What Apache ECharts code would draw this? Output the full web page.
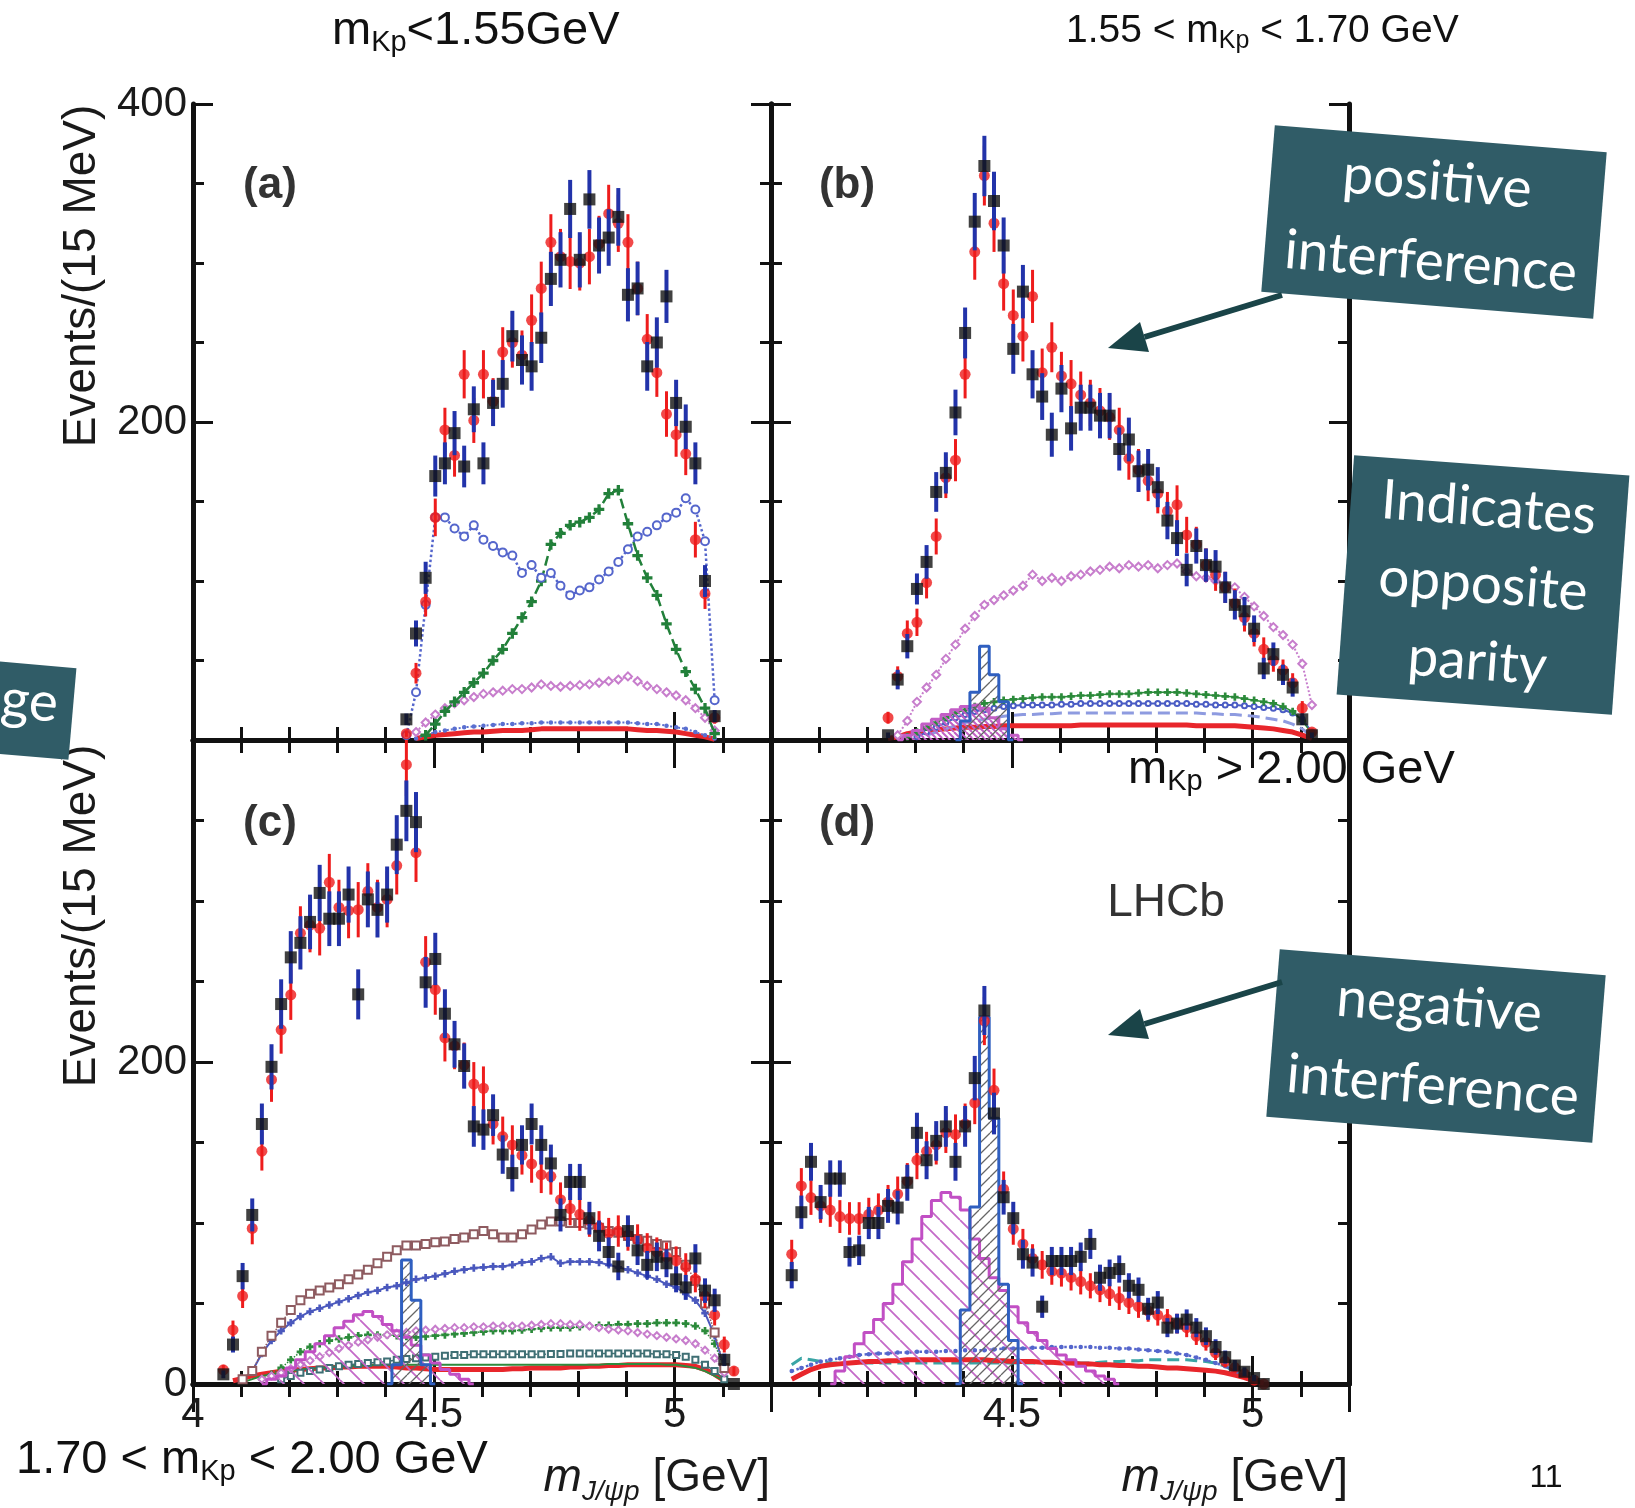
<!DOCTYPE html>
<html><head><meta charset="utf-8">
<script src="https://cdn.jsdelivr.net/npm/echarts@6/dist/echarts.min.js"></script>
<style>html,body{margin:0;padding:0;background:#fff;}#c{width:1635px;height:1508px;}</style>
</head><body><div id="c"></div>
<script>
// ---------------- tick labels ----------------
const xTickLabelsLeft = ['4', '4.5', '5'];
const xTickLabelsRight = ['4.5', '5'];
const yTickLabelsTop = ['200', '400'];
const yTickLabelsBottom = ['0', '200'];

// ---------------- panel (a): mKp < 1.55 GeV ----------------
const binsA = [4.443,4.463,4.483,4.503,4.523,4.543,4.563,4.583,4.603,4.623,4.643,4.663,4.683,4.703,4.723,4.743,4.763,4.783,4.803,4.823,4.843,4.863,4.883,4.903,4.923,4.943,4.963,4.983,5.003,5.023,5.043,5.063,5.083];
const dataA = [13,67,102,166,174,193,172,208,174,212,224,254,239,235,253,290,302,334,302,340,311,316,329,280,284,235,250,279,212,197,174,100,15];
const fitA = [4,42,87,140,195,179,230,201,230,213,244,250,242,264,284,313,304,301,300,304,312,331,325,313,284,252,231,205,192,180,126,92,14];
const blueCircA = [3,30,85,140,140,133,128,135,126,122,118,116,105,110,102,105,97,91,94,96,101,106,112,120,128,131,135,140,143,152,145,125,25];
const greenA = [null,null,3,10,18,24,30,36,42,50,57,67,77,87,100,123,130,135,137,140,145,155,157,136,116,102,91,73,57,43,32,20,4];
const magentaA = [null,5,11,16,20,23,25,27,29,30,31,32,32,33,35,34,33.5,34,34.5,35,36,37,38,40,37,34,32,30,28,25,20,14,6];
const redLowA = [null,1,2,3,3.5,4,4.5,5,5,5.5,6,6,6,6.5,7,7,7,7,7,7,7,7,7,7,6.5,6,6,5.5,5,4,3,2,0.5];
const blueLowA = [null,1,3,5,6,7,8,8.5,9,9.5,10,10,10.5,10.5,11,11,11,11,11,11,11,11,11,11,10.5,10,10,9,8,7,5,3,1];

// ---------------- panel (b): 1.55 < mKp < 1.70 GeV ----------------
const binsB = [4.243,4.263,4.283,4.303,4.323,4.343,4.363,4.383,4.403,4.423,4.443,4.463,4.483,4.503,4.523,4.543,4.563,4.583,4.603,4.623,4.643,4.663,4.683,4.703,4.723,4.743,4.763,4.783,4.803,4.823,4.843,4.863,4.883,4.903,4.923,4.943,4.963,4.983,5.003,5.023,5.043,5.063,5.083,5.103,5.123];
const dataB = [3,38,59,95,112,156,168,206,256,326,361,339,311,246,282,230,216,192,221,196,209,209,204,204,183,189,169,170,159,138,127,107,122,110,109,96,85,81,70,45,54,41,33,13,3];
const fitB = [14,40,67,74,99,128,165,176,230,307,355,325,287,267,254,279,231,247,229,224,217,212,207,203,195,177,170,163,155,144,148,129,123,110,104,96,86,77,67,57,50,44,36,20,5];
const magentaB = [null,3,12,24,33,41,51,60,70,78,85,88,91,94,97,104,100,102,100,103,104,106,107,109,108,110,109,110,108,110,111,106,103,102,100,98,96,90,84,78,71,66,60,48,22];
const greenB = [null,null,2,5,8,11,14,17,19,21,23,24,25,25.5,26,26.5,27,27,27,27.5,28,28,28.5,29,29,29,29.5,30,30,30,30,29.5,29,28.5,28,27.5,27,26,25,24,23,21,18,12,4];
const blueCircB = [null,null,null,2,5,8,11,14,16,18,19,20,21,21.5,22,22,22,22,22.5,22.5,23,23,23,23,23,23,23,23,23,23,23,23,22.5,22.5,22,22,22,21.5,21,20.5,20,19,17,13,5];
const lightDashB = [null,null,null,null,3,5,7,9,11,12,13,14,15,15.5,16,16,16.5,16.5,17,17,17,17,17,17,17,17,17,17,17,17,17,17,17,16.5,16.5,16,16,15.5,15,14,13,12,10,7,2];
const redLowB = [1,2,4,5,6,6.5,7,7.5,8,8,8.5,8.5,9,9,9,9,9,9,9,9,9.5,9.5,9.5,9.5,9.5,9.5,9.5,9.5,9.5,9.5,9.5,9.5,9,9,9,9,9,8.5,8,7.5,7,6,5,3,1];
const magHistBx = [4.263,4.283,4.303,4.323,4.343,4.363,4.383,4.403,4.423,4.443,4.463,4.483,4.503,4.523];
const magHistBy = [0,3,6,10,13,16,19,21,22,20,14,7,3,0];
const pcHistBx = [4.383,4.403,4.423,4.443,4.463,4.483,4.503];
const pcHistBy = [0,12,30,59,41,24,0];

// ---------------- panel (c): 1.70 < mKp < 2.00 GeV ----------------
const binsC = [4.063,4.083,4.103,4.123,4.143,4.163,4.183,4.203,4.223,4.243,4.263,4.283,4.303,4.323,4.343,4.363,4.383,4.403,4.423,4.443,4.463,4.483,4.503,4.523,4.543,4.563,4.583,4.603,4.623,4.643,4.663,4.683,4.703,4.723,4.743,4.763,4.783,4.803,4.823,4.843,4.863,4.883,4.903,4.923,4.943,4.963,4.983,5.003,5.023,5.043,5.063,5.083,5.103,5.123];
const dataC = [6,24.5,67,105,161.5,197,236,265,274,287,305,289,289,304,242,301,294.5,304,335,356,349,249.5,264,230,211,197.5,160,158,167,142.5,131,148.5,161.5,148.5,137,105,125.5,125.5,103,92,82,73,95,83,74,79,75,65,60,78,58,52,15,0];
const fitC = [8.8,33.6,54.6,96.6,144.6,189,220,241.7,280,285,283,311.6,296,294,294.6,306,296,301,322,384.7,330,262,245,215,210,198,186.3,183.7,161.5,153.7,148.5,142,136.7,130,129,114.5,109,105.4,101.5,97.5,93.5,95,92.4,89.7,84.5,82,79,76.7,72.7,65,54.6,42.9,24.5,8];
const brownC = [null,null,3,8,20,30,38,46,52,56,58,60,62,65,68,71,75,79,83,86,86,87,88,88.5,90,91,93,95,93,91,91,93,96,99,101,101,100,100,99,97,95,94,92,90,89,87,86,82,74,64,50,32,10,null];
const blueXC = [null,null,null,8,19,27,33,38,42,45,47,49,51,53,55,57,58,60,61,63,65,66,67,68.5,70,71,72,72.5,73,73,74,75.5,76,78,79,75,76,76,76,75.5,74,72.5,71,69,67,65,62,60,56,52,44,30,10,null];
const magDiaC = [null,null,null,null,3,5,7,9.5,12,14.5,17,19.5,22,24,26,27.5,29,30.5,31.5,32,33,33.5,34,34.5,35,35,35.5,35.5,36,36,36,36,36.5,37,37.5,37.5,37,37,36,35,34,33.5,33,32,31,30,29,28,27,25,21,16,7,null];
const greenXC = [null,null,null,null,3,6,10,15,20,23,25,27,28,29,30,30.5,30.5,30.5,30,29.5,29,29.5,30,30.5,31,31.5,32,32.5,33,33,33,33.5,34,34.5,35,35,35,35.5,36,36.5,36.5,37,37,37.5,37.5,38,38,38,37.5,36,33,25,10,null];
const tealSqC = [null,null,null,null,null,null,3,5,7,8,9,10,11,12,12.5,13,13.5,14,15,15.5,16,16.5,17,17.5,18,18,18.5,18.5,18.5,18.5,18.5,18.5,18.5,18.5,18.6,18.6,19,19,19,19,19,19,19,19,19,18.5,18.5,18,17,15,12,8,3,null];
const greenSolidC = [null,null,1,3,5,6,7,8,9,9.5,10,10.5,11,11,11.5,11.5,12,12,12,12,12,12,12,12,12,12,12,12,12,12,12,12,12,12,12,12,12,12,12,12,12.5,12.5,12.5,12.5,12.5,12.5,12,12,11,10,8,5,2,null];
const redLowC = [null,2,3.5,5,6,7,8,8.5,9,9.5,10,10,10.5,10.5,11,11,11,11,10.5,10,10,9.5,9,9,9,9,9,9,9,9,9.5,9.5,10,10,10,10,10.5,10.5,11,11,11.5,11.5,12,12,12,12,12,12,11.5,11,9,6,2,null];
const magHistCx = [4.143,4.163,4.183,4.203,4.223,4.243,4.263,4.283,4.303,4.323,4.343,4.363,4.383,4.403,4.423,4.443,4.463,4.483,4.503,4.523,4.543,4.563,4.583];
const magHistCy = [0,3,5,10,15,20,25,30,35,39,43,45,42,37,33,29,24,18,13,9,6,3,0];
const pcHistCx = [4.403,4.423,4.443,4.463,4.483,4.503];
const pcHistCy = [0,12,77,52,12,0];

// ---------------- panel (d): mKp > 2.00 GeV ----------------
const binsD = [4.043,4.063,4.083,4.103,4.123,4.143,4.163,4.183,4.203,4.223,4.243,4.263,4.283,4.303,4.323,4.343,4.363,4.383,4.403,4.423,4.443,4.463,4.483,4.503,4.523,4.543,4.563,4.583,4.603,4.623,4.643,4.663,4.683,4.703,4.723,4.743,4.763,4.783,4.803,4.823,4.843,4.863,4.883,4.903,4.923,4.943,4.963,4.983,5.003,5.023];
const dataD = [67.6,106.7,138,113,127.6,127.6,82,83,100,100,110.6,109.6,125,156,139,151,160,138,160,190,232,168,116,103,80.6,75.4,48,76.4,76.4,76.4,79,87,66,69,71.4,61,58.5,46.7,50.6,35,37.5,40,35,29.7,23,16.7,11.5,7.6,3.7,0];
const fitD = [80.6,123,115.8,110.6,108,104,102.8,102.8,105.4,108,113,118,126,139,144.6,148.5,156,155,161.5,174.6,225.5,182.4,121,96.3,87,78,74,70,68.8,66.2,63.6,61,58.5,56,53.3,50.6,48,45.4,42.8,40.2,37.5,35,29.7,25.8,19.3,14.1,10.2,6.3,2.4,0];
const blueDotD = [8,10,12,14,15,16,17,18,18.5,19,19,19.5,19.5,20,20,20,20.5,20.5,21,21,21,21.5,22,22,22,22.5,22.5,23,23,23,23,23,22.5,22.5,22,22,21.5,21,20.5,20,19,18,16.5,15,13,11,8,5,2,null];
const tealD = [12,16,15,14,13,13,13,13,13,13,13,13,13,13,13,13,13,13,13,13,13,13,13,13,13,13,13,13,13,13,13,13,13.5,14,14,14.5,14.5,15,15,15,15,15,14.5,14,13,11,8,5,2,null];
const redLowD = [3,6,9,11,12,12.5,13,13.5,14,14,14.5,14.5,15,15,15,15,15,15,15,15,15,14.5,14.5,14,14,14,13.5,13.5,13,13,12.5,12.5,12,12,11.5,11.5,11,11,10.5,10,10,9.5,9,8.5,8,7,5.5,4,2,0.5];
const magHistDx = [4.123,4.143,4.163,4.183,4.203,4.223,4.243,4.263,4.283,4.303,4.323,4.343,4.363,4.383,4.403,4.423,4.443,4.463,4.483,4.503,4.523,4.543,4.563,4.583,4.603,4.623,4.643,4.663,4.683,4.703,4.723];
const magHistDy = [0,8,17,25,32,40,50,62,76,90,104,114,119,116,108,90,78,66,58,48,38,32,27,22,18,15,11,8,5,3,0];
const pcHistDx = [4.383,4.403,4.423,4.443,4.463,4.483,4.503,4.523];
const pcHistDy = [0,46,110,228,165,62,27,0];

// =====================================================
const FONT = '"Liberation Sans", Arial, Helvetica, sans-serif';
const SLIDE_FONT = 'Lato, "Open Sans", sans-serif';
const PLUS = 'path://M4,0h2v4h4v2h-4v4h-2v-4h-4v-2h4z';

function pairs(xs, ys) {
  const out = [];
  xs.forEach((x, i) => { if (ys[i] != null) out.push([x, ys[i]]); });
  return out;
}
function hatch(color, p, dir, lw) {
  const c = document.createElement('canvas');
  c.width = p; c.height = p;
  const ctx = c.getContext('2d');
  ctx.strokeStyle = color; ctx.lineWidth = lw;
  ctx.beginPath();
  for (let k = -1; k <= 1; k++) {
    if (dir === 'back') { ctx.moveTo(k * p, 0); ctx.lineTo(k * p + p, p); }
    else { ctx.moveTo(k * p, p); ctx.lineTo(k * p + p, 0); }
  }
  ctx.stroke();
  return c;
}
const magHatch = hatch('#c46ac8', 20, 'back', 1.8);
const magHatchDense = hatch('#c060c4', 6, 'back', 2);
const greyHatch = hatch('#666', 11, 'fwd', 1.3);

const grids = [
  {left: 193, top: 104, width: 578, height: 636},
  {left: 771, top: 104, width: 578, height: 636},
  {left: 193, top: 740, width: 578, height: 644},
  {left: 771, top: 740, width: 578, height: 644}
];
grids.forEach(g => { g.outerBoundsMode = 'none'; g.containLabel = false; });

const frame = {show: true, lineStyle: {color: '#111', width: 5}};
function labelFmt(list) { return v => { const s = String(+v.toFixed(3)); return list.indexOf(s) >= 0 ? s : ''; }; }

const xAxis = [], yAxis = [];
const xLabelSets = [[], [], xTickLabelsLeft, xTickLabelsRight];
const yLabelSets = [yTickLabelsTop, [], yTickLabelsBottom, []];
for (let g = 0; g < 4; g++) {
  const xb = {type: 'value', gridIndex: g, min: 4, max: 5.2, interval: 0.5, z: 1,
    axisLine: frame, splitLine: {show: false}, minorSplitLine: {show: false},
    axisTick: {show: true, inside: true, length: 28, lineStyle: {color: '#111', width: 3}},
    minorTick: {show: true, splitNumber: 5, length: 13, lineStyle: {color: '#111', width: 3}}};
  xAxis.push(Object.assign({}, xb, {position: 'bottom',
    axisLabel: {show: xLabelSets[g].length > 0, formatter: labelFmt(xLabelSets[g]), fontSize: 42, color: '#1a1a1a', fontFamily: FONT, margin: 10, showMinLabel: true, showMaxLabel: true}}));
  xAxis.push(Object.assign({}, xb, {position: 'top', axisLabel: {show: false}}));
  const yb = {type: 'value', gridIndex: g, min: 0, max: 400, interval: 200, z: 1,
    axisLine: frame, splitLine: {show: false}, minorSplitLine: {show: false},
    axisTick: {show: true, inside: true, length: 20, lineStyle: {color: '#111', width: 3}},
    minorTick: {show: true, splitNumber: 4, length: 11, lineStyle: {color: '#111', width: 3}}};
  yAxis.push(Object.assign({}, yb, {position: 'left',
    axisLabel: {show: yLabelSets[g].length > 0, formatter: labelFmt(yLabelSets[g]), fontSize: 42, color: '#1a1a1a', fontFamily: FONT, margin: 6, showMinLabel: true, showMaxLabel: true}}));
  yAxis.push(Object.assign({}, yb, {position: 'right', axisLabel: {show: false}}));
}

const series = [];
let zc = 2;
function addLine(g, xs, ys, opt) {
  series.push(Object.assign({type: 'line', xAxisIndex: g * 2, yAxisIndex: g * 2,
    data: pairs(xs, ys), symbol: 'none', silent: true, z: zc++}, opt));
}
function curve(g, xs, ys, color, lineType, width, symbol, size) {
  addLine(g, xs, ys, {lineStyle: {color: color, width: width, type: lineType},
    symbol: symbol || 'none', showSymbol: !!symbol, symbolSize: size || 6,
    itemStyle: {color: color, borderColor: color, borderWidth: 1.5}});
}
function hist(g, xs, ys, lineColor, fill) {
  addLine(g, xs, ys, {step: 'middle', lineStyle: {color: lineColor, width: 3},
    areaStyle: {color: fill, opacity: 1}});
}
function points(g, xs, ys, color, barColor, symbol, size, barW) {
  series.push({type: 'custom', xAxisIndex: g * 2, yAxisIndex: g * 2, silent: true, clip: true, z: zc++,
    data: pairs(xs, ys).map(p => [p[0], p[1], Math.sqrt(p[1])]),
    renderItem: (params, api) => {
      const x = api.value(0), y = api.value(1), e = api.value(2);
      const a = api.coord([x, y - e]), b = api.coord([x, y + e]);
      return {type: 'line', shape: {x1: a[0], y1: a[1], x2: b[0], y2: b[1]},
        style: {stroke: barColor, lineWidth: barW}};
    }});
  series.push({type: 'scatter', xAxisIndex: g * 2, yAxisIndex: g * 2, silent: true, z: zc++,
    data: pairs(xs, ys), symbol: symbol, symbolSize: size, itemStyle: {color: color}});
}

// (a)
curve(0, binsA, redLowA, '#e8262b', 'solid', 5);
curve(0, binsA, blueLowA, '#5a6fd0', 'dotted', 2, 'circle', 3);
curve(0, binsA, magentaA, '#c77dcc', 'dotted', 2, 'emptyDiamond', 8);
curve(0, binsA, greenA, '#22803a', 'dashed', 2.5, PLUS, 9);
curve(0, binsA, blueCircA, '#5566cc', 'dotted', 2.5, 'emptyCircle', 8);
points(0, binsA, fitA, '#ee1c1c', '#ee1c1c', 'circle', 11, 3);
points(0, binsA, dataA, '#111', '#2233aa', 'rect', 12, 4);
// (b)
curve(1, binsB, redLowB, '#e8262b', 'solid', 5);
curve(1, binsB, lightDashB, '#8e9be0', 'dashed', 3);
curve(1, binsB, blueCircB, '#4a5cc4', 'solid', 2, 'emptyCircle', 5);
curve(1, binsB, greenB, '#2b8a3a', 'solid', 1.5, PLUS, 6);
hist(1, magHistBx, magHistBy, '#c35ec6', {image: magHatchDense, repeat: 'repeat'});
hist(1, pcHistBx, pcHistBy, '#2f5fc0', {image: greyHatch, repeat: 'repeat'});
curve(1, binsB, magentaB, '#c77dcc', 'dotted', 2, 'emptyDiamond', 8);
points(1, binsB, fitB, '#ee1c1c', '#ee1c1c', 'circle', 11, 3);
points(1, binsB, dataB, '#111', '#2233aa', 'rect', 12, 4);
// (c)
curve(2, binsC, redLowC, '#e8262b', 'solid', 5);
curve(2, binsC, greenSolidC, '#2e8b3d', 'solid', 2);
curve(2, binsC, tealSqC, '#3f6f74', 'dashed', 1.5, 'emptyRect', 6);
curve(2, binsC, greenXC, '#2b8a3a', 'dotted', 1.5, PLUS, 6);
curve(2, binsC, magDiaC, '#c77dcc', 'dotted', 1.5, 'emptyDiamond', 7);
hist(2, magHistCx, magHistCy, '#c14fc4', {image: magHatch, repeat: 'repeat'});
hist(2, pcHistCx, pcHistCy, '#2f5fc0', {image: greyHatch, repeat: 'repeat'});
curve(2, binsC, blueXC, '#4a58bd', 'solid', 2, PLUS, 6);
curve(2, binsC, brownC, '#8e5b60', 'dotted', 1.5, 'emptyRect', 8);
points(2, binsC, fitC, '#ee1c1c', '#ee1c1c', 'circle', 11, 3);
points(2, binsC, dataC, '#111', '#2233aa', 'rect', 12, 4);
// (d)
curve(3, binsD, tealD, '#3aa5a5', 'dashed', 3);
curve(3, binsD, redLowD, '#e8262b', 'solid', 5);
curve(3, binsD, blueDotD, '#5566cc', 'dotted', 2.5, 'circle', 3);
hist(3, magHistDx, magHistDy, '#c14fc4', {image: magHatch, repeat: 'repeat'});
hist(3, pcHistDx, pcHistDy, '#2f5fc0', {image: greyHatch, repeat: 'repeat'});
points(3, binsD, fitD, '#ee1c1c', '#ee1c1c', 'circle', 11, 3);
points(3, binsD, dataD, '#111', '#2233aa', 'rect', 12, 4);

// ---------------- annotations ----------------
const ZG = 200;
function subText(x, y, parts, size, subSize, align) {
  return {type: 'text', x: x, y: y, z: ZG, style: {
    text: parts, align: align || 'left', verticalAlign: 'middle', fill: '#111',
    rich: {
      m: {fontSize: size, lineHeight: size + 6, fontFamily: FONT, fill: '#111'},
      s: {fontSize: subSize, lineHeight: subSize + 2, verticalAlign: 'bottom', fontFamily: FONT, fill: '#111'}
    }}};
}
function box(cx, cy, w, h, rot, lines, fs, gap) {
  const children = [{type: 'rect', z: ZG, shape: {x: -w / 2, y: -h / 2, width: w, height: h}, style: {fill: '#305c67'}}];
  lines.forEach((t, i) => { if (t) children.push({type: 'text', z: ZG + 1, x: 0, y: (i - (lines.length - 1) / 2) * gap,
    style: {text: t, fontSize: fs, fontFamily: SLIDE_FONT, fill: '#fff', align: 'center', verticalAlign: 'middle'}}); });
  return {type: 'group', x: cx, y: cy, rotation: rot, z: ZG, children: children};
}
function arrow(tail, tip, base1, base2) {
  return {type: 'group', z: ZG, children: [
    {type: 'line', z: ZG, shape: {x1: tail[0], y1: tail[1], x2: (base1[0] + base2[0]) / 2, y2: (base1[1] + base2[1]) / 2}, style: {stroke: '#1a4448', lineWidth: 6}},
    {type: 'polygon', z: ZG, shape: {points: [tip, base1, base2]}, style: {fill: '#1a4448'}}
  ]};
}
const xTitleRich = {i: {fontSize: 46, lineHeight: 56, fontStyle: 'italic', fontFamily: FONT, fill: '#1a1a1a'},
  s: {fontSize: 28, lineHeight: 22, fontStyle: 'italic', verticalAlign: 'bottom', fontFamily: FONT, fill: '#1a1a1a'},
  m: {fontSize: 46, lineHeight: 56, fontFamily: FONT, fill: '#1a1a1a'}};

const graphic = [
  subText(332, 31, '{m|m}{s|Kp}{m|<1.55GeV}', 47, 29),
  subText(1066, 31, '{m|1.55 < m}{s|Kp}{m| < 1.70 GeV}', 39, 25),
  subText(16, 1460, '{m|1.70 < m}{s|Kp}{m| < 2.00 GeV}', 47, 29),
  subText(1128, 770, '{m|m}{s|Kp}{m| > 2.00 GeV}', 47, 29),
  {type: 'text', x: 1546, y: 1478, z: ZG, style: {text: '11', fontSize: 32, fontFamily: FONT, fill: '#111', align: 'center', verticalAlign: 'middle'}},
  {type: 'text', x: 82, y: 276, rotation: Math.PI / 2, z: ZG, style: {text: 'Events/(15 MeV)', fontSize: 46, fontFamily: FONT, fill: '#1a1a1a', align: 'center', verticalAlign: 'middle'}},
  {type: 'text', x: 82, y: 916, rotation: Math.PI / 2, z: ZG, style: {text: 'Events/(15 MeV)', fontSize: 46, fontFamily: FONT, fill: '#1a1a1a', align: 'center', verticalAlign: 'middle'}},
  {type: 'text', x: 770, y: 1478, z: ZG, style: {text: '{i|m}{s|J/ψp}{m| [GeV]}', align: 'right', verticalAlign: 'middle', rich: xTitleRich}},
  {type: 'text', x: 1348, y: 1478, z: ZG, style: {text: '{i|m}{s|J/ψp}{m| [GeV]}', align: 'right', verticalAlign: 'middle', rich: xTitleRich}},
  {type: 'text', x: 270, y: 186, z: ZG, style: {text: '(a)', fontSize: 44, fontWeight: 'bold', fontFamily: FONT, fill: '#333', align: 'center', verticalAlign: 'middle'}},
  {type: 'text', x: 847, y: 186, z: ZG, style: {text: '(b)', fontSize: 44, fontWeight: 'bold', fontFamily: FONT, fill: '#333', align: 'center', verticalAlign: 'middle'}},
  {type: 'text', x: 270, y: 824, z: ZG, style: {text: '(c)', fontSize: 44, fontWeight: 'bold', fontFamily: FONT, fill: '#333', align: 'center', verticalAlign: 'middle'}},
  {type: 'text', x: 847, y: 824, z: ZG, style: {text: '(d)', fontSize: 44, fontWeight: 'bold', fontFamily: FONT, fill: '#333', align: 'center', verticalAlign: 'middle'}},
  {type: 'text', x: 1166, y: 903, z: ZG, style: {text: 'LHCb', fontSize: 46, fontFamily: FONT, fill: '#333', align: 'center', verticalAlign: 'middle'}},
  box(1434, 222, 333, 167, -0.081, ['positive', 'interference'], 55, 80),
  box(1483, 585, 276, 240, -0.073, ['Indicates', 'opposite', 'parity'], 55, 77),
  box(1436, 1046, 327, 168, -0.08, ['negative', 'interference'], 55, 80),
  box(-77, 701, 300, 92, -0.087, [''], 55, 0),
  {type: 'text', x: 58, y: 704, rotation: -0.087, z: ZG + 1, style: {text: 'ge', fontSize: 55, fontFamily: SLIDE_FONT, fill: '#fff', align: 'right', verticalAlign: 'middle'}},
  arrow([1282, 295], [1108, 348], [1149, 352], [1140, 322]),
  arrow([1282, 982], [1108, 1035], [1149, 1039], [1140, 1009])
];

const chart = echarts.init(document.getElementById('c'), null, {renderer: 'canvas'});
chart.setOption({
  backgroundColor: '#fff',
  animation: false,
  grid: grids,
  xAxis: xAxis,
  yAxis: yAxis,
  series: series,
  graphic: {elements: graphic}
});
</script></body></html>
